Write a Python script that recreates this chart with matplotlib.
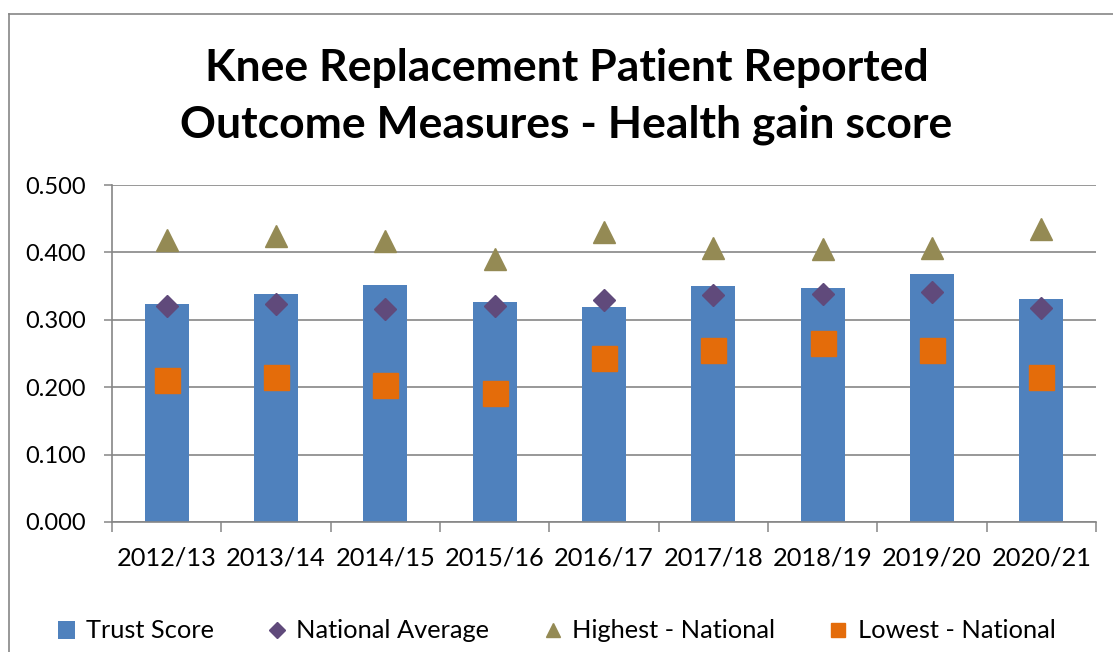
import numpy as np
import matplotlib
matplotlib.use('Agg')
import matplotlib.pyplot as plt
from matplotlib.lines import Line2D
from matplotlib.patches import Patch

plt.rcParams['font.family'] = ['Lato', 'DejaVu Sans']

# data
years = ['2012/13', '2013/14', '2014/15', '2015/16', '2016/17',
         '2017/18', '2018/19', '2019/20', '2020/21']
trust_score = [0.324, 0.338, 0.352, 0.326, 0.319, 0.350, 0.347, 0.368, 0.331]
national_avg = [0.320, 0.323, 0.316, 0.320, 0.330, 0.337, 0.338, 0.341, 0.317]
highest_nat = [0.419, 0.425, 0.417, 0.390, 0.431, 0.406, 0.405, 0.407, 0.434]
lowest_nat = [0.210, 0.215, 0.204, 0.192, 0.244, 0.255, 0.266, 0.255, 0.215]

grey = '#868686'
W, H = 1113, 652

fig = plt.figure(figsize=(W / 100, H / 100), dpi=100)
ax = fig.add_axes([112 / W, 1 - 522 / H, (1096 - 112) / W, (522 - 185) / H])

x = np.arange(len(years))
ax.bar(x, trust_score, width=0.40, color='#4F81BD', zorder=2)
ax.plot(x, national_avg, ls='none', marker='D', ms=11.5, color='#604A7B', zorder=3)
ax.plot(x, highest_nat, ls='none', marker='^', ms=16.5, color='#948A54', zorder=3)
ax.plot(x, lowest_nat, ls='none', marker='s', ms=18, color='#E46C0A', zorder=3)

ax.set_xlim(-0.5, len(years) - 0.5)
ax.set_ylim(0, 0.5)
ax.set_yticks(np.arange(0, 0.51, 0.1))
ax.set_yticklabels(['%.3f' % v for v in np.arange(0, 0.51, 0.1)])
ax.yaxis.grid(True, color=grey, lw=1.2, zorder=0)
ax.set_axisbelow(True)

ax.set_xticks(np.arange(-0.5, len(years)), [''] * (len(years) + 1))
ax.set_xticks(x, years, minor=True)
ax.tick_params(axis='x', which='major', length=7, width=1.1, color=grey, direction='out')
ax.tick_params(axis='x', which='minor', length=0, pad=18, labelsize=18.3)
ax.tick_params(axis='y', length=6, width=1.1, color=grey, pad=13, labelsize=17)

for s in ['top', 'right']:
    ax.spines[s].set_visible(False)
for s in ['left', 'bottom']:
    ax.spines[s].set_color(grey)
    ax.spines[s].set_linewidth(1.2)

fig.text(0.509, 0.852, 'Knee Replacement Patient Reported\nOutcome Measures - Health gain score',
         ha='center', va='center', fontsize=32, fontweight='bold', linespacing=1.5)

# outer chart border (left and top visible)
x0, y0 = 9 / W, 1 - 14 / H
fig.add_artist(Line2D([x0, x0], [0, y0], color=grey, lw=1.2))
fig.add_artist(Line2D([x0, 1], [y0, y0], color=grey, lw=1.2))

handles = [
    Patch(facecolor='#4F81BD', label='Trust Score'),
    Line2D([], [], ls='none', marker='D', ms=8, color='#604A7B', label='National Average'),
    Line2D([], [], ls='none', marker='^', ms=10, color='#948A54', label='Highest - National'),
    Line2D([], [], ls='none', marker='s', ms=10, color='#E46C0A', label='Lowest - National'),
]
fig.legend(handles=handles, loc='center', bbox_to_anchor=(0.5, 1 - 631 / H), ncol=4,
           frameon=False, fontsize=18.3, handlelength=0.7, handletextpad=0.4,
           columnspacing=2.15, handleheight=0.7)

plt.savefig('out.png', dpi=100)
